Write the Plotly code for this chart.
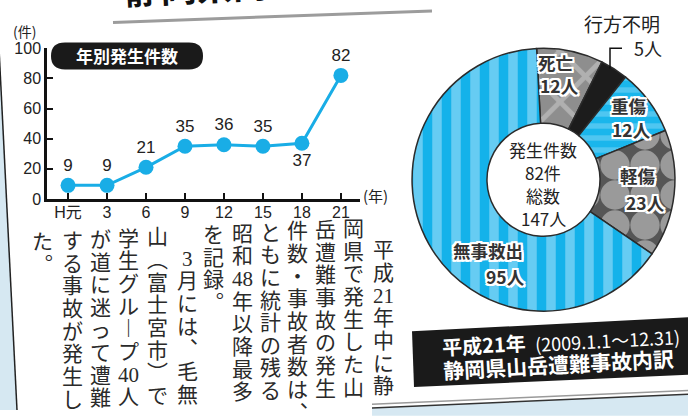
import plotly.graph_objects as go

W, H = 688, 419

# ---------------- data ----------------
years = ["H元", "3", "6", "9", "12", "15", "18", "21"]
counts = [9, 9, 21, 35, 36, 35, 37, 82]
y_tick_values = [0, 20, 40, 60, 80, 100]

pie_labels = ["死亡", "行方不明", "重傷", "軽傷", "無事救出"]
pie_values = [12, 5, 12, 23, 95]
cases_total = 82
people_total = 147

body_columns = [
    "　平成21年中に静",
    "岡県で発生した山",
    "岳遭難事故の発生",
    "件数・事故者数は、",
    "ともに統計の残る",
    "昭和48年以降最多",
    "を記録。",
    "　3月には、毛無",
    "山（富士宮市）で",
    "学生グループ40人",
    "が道に迷って遭難",
    "する事故が発生し",
    "た。",
]


def px(x):
    return x / W


def py(y):
    return 1 - y / H


SANS = "Liberation Sans, Noto Sans CJK JP, sans-serif"
CJK = "Noto Sans CJK JP, sans-serif"
BODY = "Liberation Serif, Noto Sans CJK JP, serif"
WHITE_OUTLINE = ", ".join(
    f"{dx}px {dy}px 0 #fff" for dx, dy in
    [(-2, -2), (2, -2), (-2, 2), (2, 2), (0, 2), (0, -2), (2, 0), (-2, 0),
     (-1, 2), (1, -2), (2, 1), (-2, -1)]
)

fig = go.Figure()

# line chart
fig.add_trace(go.Scatter(
    x=list(range(len(years))), y=counts,
    mode="lines+markers+text",
    text=[str(v) for v in counts],
    textposition=["top center"] * 6 + ["bottom center", "top center"],
    textfont=dict(family=SANS, size=17, color="#222"),
    line=dict(color="#19ade6", width=3),
    marker=dict(color="#19ade6", size=15),
    cliponaxis=False, hoverinfo="skip", showlegend=False,
))

# donut chart
fig.add_trace(go.Pie(
    labels=pie_labels, values=pie_values, sort=False,
    direction="clockwise", rotation=-3, hole=0.43,
    marker=dict(
        colors=["#8e8e8e", "#1c1c1c", "#1ab6ec", "#565656", "#66ccf3"],
        line=dict(color="#2b2b2b", width=1.5),
        pattern=dict(
            shape=["x", "", "-", ".", "|"],
            bgcolor=["#8e8e8e", "#1c1c1c", "#1ab6ec", "#565656", "#66ccf3"],
            fgcolor=["#b0b0b0", "#1c1c1c", "#4fc6f1", "#9a9a9a", "#14b2ea"],
            size=[36, 8, 12, 30, 19],
            solidity=[0.25, 0.3, 0.45, 0.75, 0.5],
        ),
    ),
    textinfo="none", hoverinfo="skip", showlegend=False,
    domain=dict(x=[px(406.5), px(680.5)], y=[py(316), py(42)]),
))

shapes = []
annotations = []

# light-blue surroundings of the clipping
shapes.append(dict(type="path", xref="paper", yref="paper",
                   path=f"M {px(-10)},{py(0)} L {px(-3)},{py(0)} L {px(17)},{py(419)} L {px(-10)},{py(419)} Z",
                   fillcolor="#d6e8f2", line=dict(width=0), layer="below"))
shapes.append(dict(type="line", xref="paper", yref="paper",
                   x0=px(-3), y0=py(0), x1=px(17), y1=py(419),
                   line=dict(color="#222", width=1.5)))
shapes.append(dict(type="path", xref="paper", yref="paper",
                   path=f"M {px(372)},{py(417)} L {px(700)},{py(402)} L {px(700)},{py(425)} L {px(372)},{py(425)} Z",
                   fillcolor="#d6e8f2", line=dict(width=0), layer="below"))
shapes.append(dict(type="line", xref="paper", yref="paper",
                   x0=px(372), y0=py(417), x1=px(700), y1=py(402),
                   line=dict(color="#333", width=1.5)))
shapes.append(dict(type="line", xref="paper", yref="paper",
                   x0=px(372), y0=py(413), x1=px(700), y1=py(398),
                   line=dict(color="#9a9a9a", width=1.5)))

# header rule
shapes.append(dict(type="line", xref="paper", yref="paper",
                   x0=px(113), y0=py(15), x1=px(432), y1=py(3),
                   line=dict(color="#9c9c9c", width=3)))


def rounded(x0, y0, x1, y1, r):
    p = [
        f"M {px(x0 + r)},{py(y0)}",
        f"L {px(x1 - r)},{py(y0)}",
        f"Q {px(x1)},{py(y0)} {px(x1)},{py((y0 + y1) / 2)}",
        f"Q {px(x1)},{py(y1)} {px(x1 - r)},{py(y1)}",
        f"L {px(x0 + r)},{py(y1)}",
        f"Q {px(x0)},{py(y1)} {px(x0)},{py((y0 + y1) / 2)}",
        f"Q {px(x0)},{py(y0)} {px(x0 + r)},{py(y0)}",
        "Z",
    ]
    return " ".join(p)


# title pill of the line chart
shapes.append(dict(type="path", xref="paper", yref="paper",
                   path=rounded(51, 36, 203, 64, 14),
                   fillcolor="#1a1a1a", line=dict(width=0)))
annotations.append(dict(text="年別発生件数", x=px(127), y=py(50),
                        font=dict(family=CJK, size=17, color="white", weight="bold")))

# leader for 行方不明
shapes.append(dict(type="path", xref="paper", yref="paper",
                   path=f"M {px(622)},{py(42)} L {px(610)},{py(42)} L {px(610)},{py(63)}",
                   line=dict(color="#111", width=1.5)))

# bottom black caption box
shapes.append(dict(type="path", xref="paper", yref="paper",
                   path=f"M {px(412)},{py(337)} L {px(692)},{py(322)} L {px(692)},{py(382)} L {px(414)},{py(395)} Z",
                   fillcolor="#1a1a1a", line=dict(width=0)))

# axis captions
annotations.append(dict(text="(件)", x=px(24), y=py(24),
                        font=dict(family=CJK, size=14, color="#222")))
annotations.append(dict(text="(年)", x=px(375), y=py(195),
                        font=dict(family=CJK, size=15, color="#222")))

# cut-off headline
annotations.append(dict(text="静岡県内", x=px(121), y=py(9), xanchor="left",
                        yanchor="bottom", textangle=-3,
                        font=dict(family=CJK, size=36, color="#111", weight="bold")))


# donut labels
def outlined(text, x, y, size=17.5):
    annotations.append(dict(text=text, x=px(x), y=py(y),
                            font=dict(family=CJK, size=size, color="#333",
                                      weight="bold", shadow=WHITE_OUTLINE)))


outlined(pie_labels[0], 555, 57)
outlined(f"{pie_values[0]}人", 559, 81)
annotations.append(dict(text=pie_labels[1], x=px(622), y=py(16),
                        font=dict(family=CJK, size=19, color="#222")))
annotations.append(dict(text=f"{pie_values[1]}人", x=px(648), y=py(42),
                        font=dict(family=CJK, size=18, color="#222")))
outlined(pie_labels[2], 629, 102)
outlined(f"{pie_values[2]}人", 631, 127)
outlined(pie_labels[3], 638, 175)
outlined(f"{pie_values[3]}人", 645, 203)
outlined(pie_labels[4], 488, 253)
outlined(f"{pie_values[4]}人", 505, 280)

# donut centre
for t, yy in [("発生件数", 147), (f"{cases_total}件", 171), ("総数", 195), (f"{people_total}人", 219)]:
    annotations.append(dict(text=t, x=px(543), y=py(yy),
                            font=dict(family=CJK, size=17, color="#222")))

# caption text
annotations.append(dict(text="平成21年", x=px(484), y=py(351), textangle=-3,
                        font=dict(family=CJK, size=20, color="white", weight="bold")))
annotations.append(dict(text="(2009.1.1〜12.31)", x=px(532), y=py(346), textangle=-3,
                        xanchor="left",
                        font=dict(family=CJK, size=18, color="white")))
annotations.append(dict(text="静岡県山岳遭難事故内訳", x=px(558), y=py(371), textangle=-3,
                        font=dict(family=CJK, size=21, color="white", weight="bold")))

# vertical body text
VERT = {"、": "︑", "。": "︒", "（": "︵", "）": "︶", "ー": "︱"}


def tokens(s):
    out = []
    i = 0
    while i < len(s):
        c = s[i]
        if c.isascii() and c.isdigit():
            j = i
            while j < len(s) and s[j].isascii() and s[j].isdigit():
                j += 1
            out.append(s[i:j])
            i = j
        else:
            out.append(VERT.get(c, c))
            i += 1
    return out


col_x = [383, 353, 325, 297, 270, 242, 213, 187, 157, 128, 100, 72, 42]
step = 23.6
for cx, s in zip(col_x, body_columns):
    y0 = 229 + (383 - cx) * 0.045
    for k, t in enumerate(tokens(s)):
        if t.strip() == "":
            continue
        annotations.append(dict(text=t, x=px(cx), y=py(y0 + k * step),
                                font=dict(family=BODY, size=21, color="#2a2a2a")))

for a in annotations:
    a.setdefault("xref", "paper")
    a.setdefault("yref", "paper")
    a.setdefault("showarrow", False)
    a.setdefault("xanchor", "center")
    a.setdefault("yanchor", "middle")

fig.update_layout(
    width=W, height=H,
    margin=dict(l=0, r=0, t=0, b=0),
    paper_bgcolor="white", plot_bgcolor="rgba(0,0,0,0)",
    xaxis=dict(domain=[px(47), px(360)], range=[-0.54, 7.49],
               tickmode="array", tickvals=list(range(len(years))), ticktext=years,
               showline=True, linecolor="#111", linewidth=2.5,
               ticks="inside", ticklen=6, tickwidth=1.5, tickcolor="#111",
               ticklabelstandoff=-3,
               showgrid=False, zeroline=False, fixedrange=True,
               tickfont=dict(family=SANS, size=16, color="#222")),
    yaxis=dict(domain=[py(199), py(42)], range=[0, 100],
               tickmode="array", tickvals=y_tick_values,
               showline=True, linecolor="#111", linewidth=2.5,
               ticks="inside", ticklen=6, tickwidth=1.5, tickcolor="#111",
               showgrid=False, zeroline=False, fixedrange=True,
               tickfont=dict(family=SANS, size=16, color="#222")),
    shapes=shapes,
    annotations=annotations,
    showlegend=False,
)

fig.write_html("out.html")
